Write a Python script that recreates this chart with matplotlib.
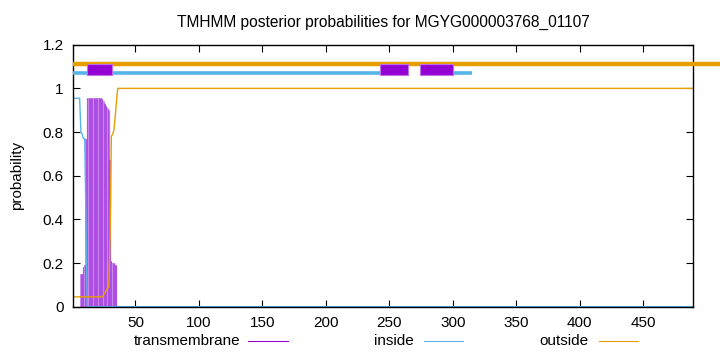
import matplotlib.pyplot as plt
import numpy as np
from matplotlib.lines import Line2D

# Dlugosc sekwencji
seq_len = 489
title = 'TMHMM posterior probabilities for MGYG000003768_01107'

# Prawdopodobienstwa dla pozycji 1..36, dalej stale
tm_head = [0.0, 0.0, 0.0, 0.0, 0.0, 0.0, 0.15, 0.15, 0.18, 0.19,
           0.77, 0.955, 0.955, 0.955, 0.955, 0.955, 0.955, 0.955, 0.955, 0.955,
           0.955, 0.955, 0.955, 0.95, 0.94, 0.93, 0.92, 0.91, 0.90, 0.67,
           0.21, 0.20, 0.20, 0.19, 0.19, 0.0]
inside_head = [0.955, 0.955, 0.955, 0.955, 0.955, 0.955, 0.80, 0.79, 0.77, 0.77,
               0.40, 0.0, 0.0, 0.0, 0.0, 0.0, 0.0, 0.0, 0.0, 0.0,
               0.0, 0.0, 0.0, 0.0, 0.0, 0.0, 0.0, 0.0, 0.0, 0.0,
               0.0, 0.0, 0.0, 0.0, 0.0, 0.0]
outside_head = [0.045, 0.045, 0.045, 0.045, 0.045, 0.045, 0.045, 0.045, 0.045, 0.045,
                0.045, 0.045, 0.045, 0.045, 0.045, 0.045, 0.045, 0.045, 0.045, 0.045,
                0.045, 0.045, 0.045, 0.045, 0.055, 0.065, 0.075, 0.085, 0.09, 0.33,
                0.78, 0.79, 0.81, 0.87, 0.94, 1.0]
tm_tail = 0.0
inside_tail = 0.0
outside_tail = 1.0

# Paski na gorze (przewidziana topologia)
outside_bar = (1, 511)
inside_bars = [(1, 242.6), (300.5, 315.5)]
tm_boxes = [(11.5, 31.5), (242.6, 264.7), (274.5, 300.5)]

pos = np.arange(1, seq_len + 1)
n_tail = seq_len - len(tm_head)
tm = np.array(tm_head + [tm_tail] * n_tail)
inside = np.array(inside_head + [inside_tail] * n_tail)
outside = np.array(outside_head + [outside_tail] * n_tail)

c_tm = '#9400d3'
c_in = '#56b4e9'
c_out = '#e69f00'

plt.rcParams['font.family'] = ['Liberation Sans', 'DejaVu Sans']
fig = plt.figure(figsize=(7.2, 3.52), dpi=100)
ax = fig.add_axes([0.1018, 0.1287, 0.8602, 0.7443])

# Impulsy dla transmembrane
ax.bar(pos, tm, width=1.0, color='#d196f0', linewidth=0)
ax.vlines(pos, 0, tm, color='#a030e0', linewidth=0.9, alpha=0.65)
ax.plot(pos, inside, color=c_in, linewidth=1.0)
ax.plot(pos, outside, color=c_out, linewidth=1.0)

# Linie topologii
ax.plot(outside_bar, [1.11, 1.11], color=c_out, linewidth=3.2, clip_on=False,
        solid_capstyle='butt', zorder=3)
for a, b in inside_bars:
    ax.plot([a, b], [1.07, 1.07], color=c_in, linewidth=2.6, solid_capstyle='butt',
            zorder=3)
for a, b in tm_boxes:
    ax.fill_between([a, b], 1.063, 1.113, color=c_tm, linewidth=0.8,
                    edgecolor='#c070e8', zorder=4)

ax.set_xlim(1, seq_len)
ax.set_ylim(0, 1.2)
ax.set_xticks(np.arange(50, 451, 50))
ax.set_yticks([0, 0.2, 0.4, 0.6, 0.8, 1.0, 1.2])
ax.set_yticklabels(['0', '0.2', '0.4', '0.6', '0.8', '1', '1.2'])
ax.tick_params(direction='in', top=True, right=True, labelsize=11, length=5,
               pad=7)
ax.set_ylabel('probability', fontsize=11, labelpad=13)
ax.set_title(title, fontsize=11.2, pad=13)
for s in ax.spines.values():
    s.set_linewidth(1.0)

# Legenda pod wykresem
leg_y = 1 - 341 / 352
legend = [('transmembrane', 240, 248, 288, c_tm),
          ('inside', 414, 424, 463, c_in),
          ('outside', 589, 599, 638, c_out)]
for label, tx, x0, x1, col in legend:
    fig.text(tx / 720, leg_y, label, ha='right', va='center', fontsize=11)
    fig.add_artist(Line2D([x0 / 720, x1 / 720], [leg_y, leg_y], color=col,
                          linewidth=0.8, transform=fig.transFigure))

fig.savefig('out.png', dpi=100)
